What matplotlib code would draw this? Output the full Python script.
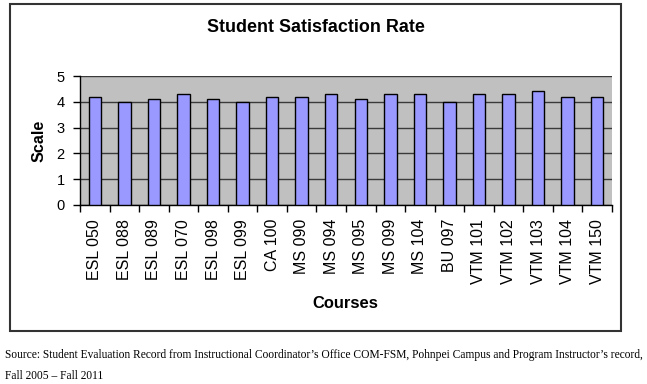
import matplotlib.pyplot as plt
from matplotlib.patches import Rectangle

courses = ["ESL 050", "ESL 088", "ESL 089", "ESL 070", "ESL 098", "ESL 099",
           "CA 100", "MS 090", "MS 094", "MS 095", "MS 099", "MS 104",
           "BU 097", "VTM 101", "VTM 102", "VTM 103", "VTM 104", "VTM 150"]
scores = [4.2, 4.0, 4.1, 4.3, 4.1, 4.0, 4.2, 4.2, 4.3, 4.1, 4.3, 4.3,
          4.0, 4.3, 4.32, 4.4, 4.2, 4.2]

plt.rcParams['font.family'] = ['Liberation Sans', 'DejaVu Sans']

W, H = 647, 384
fig = plt.figure(figsize=(W / 100, H / 100), dpi=100)

# chart frame
fig.patches.append(Rectangle((10 / W, 1 - 331 / H), 611 / W, 327 / H,
                             transform=fig.transFigure, fill=False,
                             edgecolor='#333333', linewidth=1.5))

ax = fig.add_axes([80 / W, 1 - 205 / H, 532 / W, 129 / H])
ax.set_facecolor('#c0c0c0')
x = range(len(courses))
ax.bar(x, scores, width=0.42, color='#9999ff', edgecolor='black',
       linewidth=1.0, zorder=3)
ax.set_xlim(-0.5, len(courses) - 0.5)
ax.set_ylim(0, 5)
ax.set_yticks(range(6))
ax.yaxis.grid(True, color='#3a3a3a', linewidth=1.0, zorder=1)
ax.set_xticks(x)
ax.set_xticklabels(courses, rotation=90, fontsize=11.5)
ax.set_xticks([i + 0.5 for i in range(-1, len(courses))], minor=True)
ax.tick_params(axis='x', which='major', length=0, pad=10)
ax.tick_params(axis='x', which='minor', length=5, width=1, direction='out')
ax.tick_params(axis='y', length=5, width=1, labelsize=10.5, pad=6)
for s in ['top', 'right']:
    ax.spines[s].set_visible(False)
ax.spines['left'].set_linewidth(1.0)
ax.spines['bottom'].set_linewidth(1.0)
ax.set_ylabel("Scale", fontsize=11.6, fontweight='bold', labelpad=7)

fig.text(316 / W, 1 - 27 / H, "Student Satisfaction Rate", ha='center',
         va='center', fontsize=12.9, fontweight='bold')
fig.text(345 / W, 1 - 303 / H, "Courses", ha='center', va='center',
         fontsize=11.9, fontweight='bold')

src = ("Source: Student Evaluation Record from Instructional Coordinator\u2019s Office COM-FSM, "
       "Pohnpei Campus and Program Instructor\u2019s record,")
fig.text(5 / W, 1 - 355 / H, src, ha='left', va='center', fontsize=8.3,
         family=['Liberation Serif', 'DejaVu Serif'])
fig.text(5 / W, 1 - 376 / H, "Fall 2005 \u2013 Fall 2011", ha='left', va='center',
         fontsize=8.3, family=['Liberation Serif', 'DejaVu Serif'])

fig.savefig("out.png", dpi=100)
